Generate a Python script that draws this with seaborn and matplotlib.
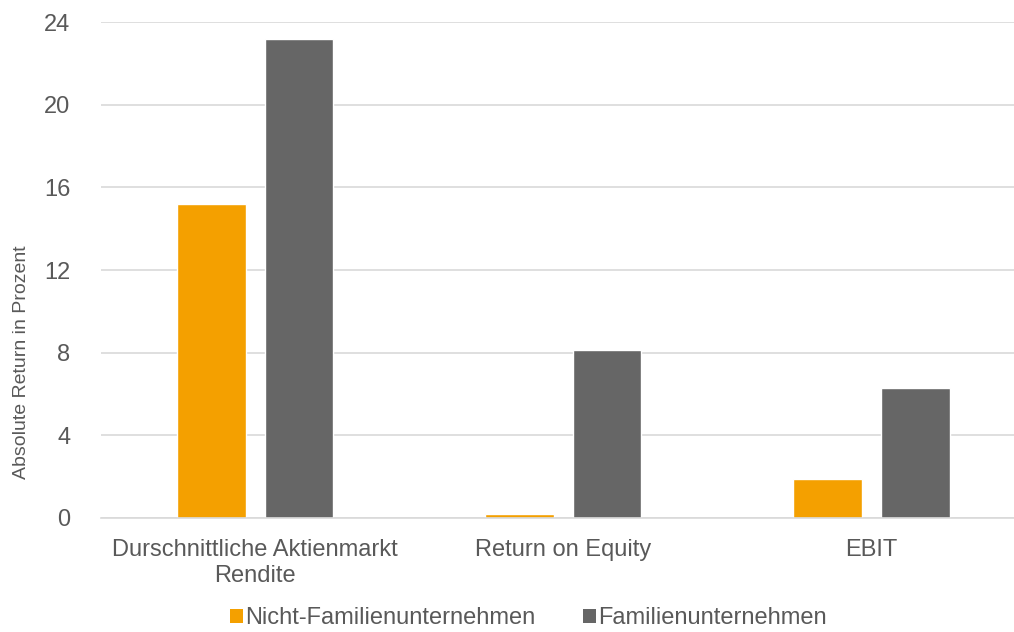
import matplotlib
matplotlib.use("Agg")
import matplotlib.pyplot as plt
import seaborn as sns
import pandas as pd
from matplotlib.patches import Patch

categories = ["Durschnittliche Aktienmarkt\nRendite", "Return on Equity", "EBIT"]
series_names = ["Nicht-Familienunternehmen", "Familienunternehmen"]
nicht_familien = [15.2, 0.2, 1.9]
familien = [23.2, 8.15, 6.3]
yticks = [0, 4, 8, 12, 16, 20, 24]
colors = ["#F4A000", "#666666"]

df = pd.DataFrame({
    "Kategorie": categories * 2,
    "Serie": [series_names[0]] * 3 + [series_names[1]] * 3,
    "Wert": nicht_familien + familien,
})

sns.set_theme(style="white")
plt.rcParams['font.family'] = ['Liberation Sans', 'DejaVu Sans']
text_color = "#595959"

fig = plt.figure(figsize=(10.14, 6.32), dpi=100)
ax = fig.add_axes([101/1014, 1-518/632, 1-101/1014, (518-22)/632])

sns.barplot(data=df, x="Kategorie", y="Wert", hue="Serie", order=categories,
            hue_order=series_names, palette=colors, width=0.571, gap=0.216,
            ax=ax, legend=False, saturation=1)

ax.set_ylim(0, 24)
ax.set_xlim(-0.5, 2.464)
ax.set_yticks(yticks)
ax.set_yticklabels([str(t) for t in yticks], fontsize=17, color=text_color)
ax.tick_params(axis="x", labelsize=17, colors=text_color, length=0, pad=15)
ax.tick_params(axis="y", length=0, pad=22)
for lbl in ax.get_xticklabels():
    lbl.set_color(text_color)
    lbl.set_linespacing(1.25)
ax.yaxis.grid(True, color="#D9D9D9", linewidth=1.2)
ax.set_axisbelow(True)
for s in ["top", "right", "left"]:
    ax.spines[s].set_visible(False)
ax.spines["bottom"].set_color("#D9D9D9")
ax.spines["bottom"].set_linewidth(1.2)
ax.set_xlabel("")
ax.set_ylabel("Absolute Return in Prozent", fontsize=14, color=text_color)
ax.yaxis.set_label_coords((30-101)/913, (518-362)/496)

handles = [Patch(facecolor=c, edgecolor="none") for c in colors]
fig.legend(handles, series_names, loc="center", bbox_to_anchor=(0.521, 0.022),
           ncol=2, frameon=False, fontsize=17, labelcolor=text_color,
           handlelength=0.55, handleheight=0.55, handletextpad=0.1, columnspacing=2.0)

fig.savefig("out.png", dpi=100)
